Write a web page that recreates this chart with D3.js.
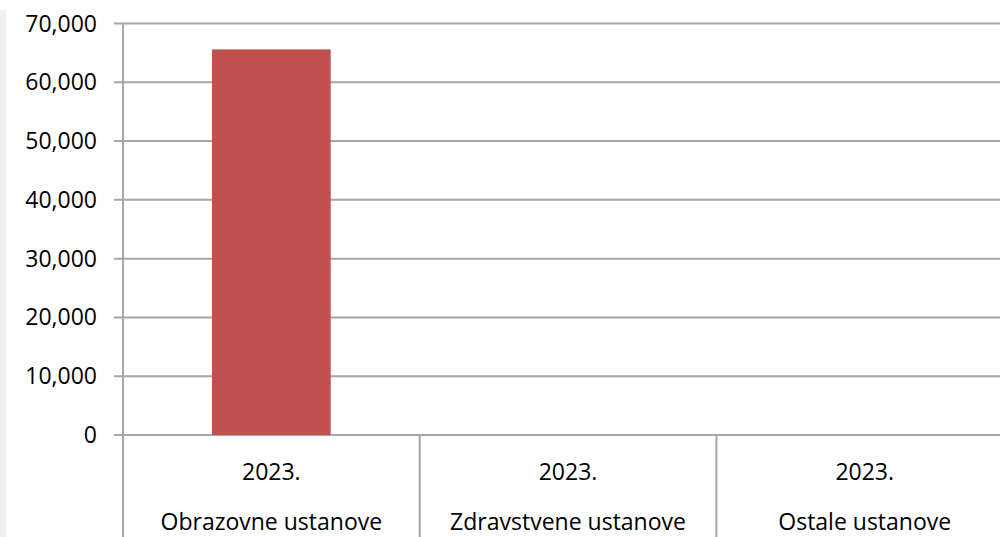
<!DOCTYPE html>
<html>
<head>
<meta charset="utf-8">
<script src="https://cdn.jsdelivr.net/npm/d3@7"></script>
<style>
  body { margin: 0; background: #fff; }
  svg { display: block; font-family: "Open Sans", sans-serif; }
  .tick-label { font-size: 23px; fill: #000; }
</style>
</head>
<body>
<svg id="chart"></svg>
<script>
// data
var years = ["2023.", "2023.", "2023."];
var categories = ["Obrazovne ustanove", "Zdravstvene ustanove", "Ostale ustanove"];
var values = [65600, 0, 0];
var yTicks = [0, 10000, 20000, 30000, 40000, 50000, 60000, 70000];

var w = 1000;
var h = 537;
var padding = {
  top: 23.5,
  left: 123,
  bottom: 102
};
var bandW = 296.7;

var svg = d3.select("#chart")
  .attr("width", w)
  .attr("height", h);

// faint strip at the left edge
svg.append("rect")
  .attr("x", 0)
  .attr("y", 10)
  .attr("width", 6)
  .attr("height", h - 10)
  .attr("fill", "#f0f1ed");

var yScale = d3.scaleLinear()
  .domain([0, 70000])
  .range([h - padding.bottom, padding.top]);

var xScale = d3.scaleBand()
  .domain(d3.range(categories.length))
  .range([padding.left, padding.left + bandW * categories.length])
  .paddingInner(0)
  .paddingOuter(0);

var fmt = d3.format(",");

// gridlines
svg.selectAll("line.grid")
  .data(yTicks)
  .enter()
  .append("line")
  .attr("class", "grid")
  .attr("x1", padding.left - 9)
  .attr("x2", w)
  .attr("y1", function(d) { return yScale(d); })
  .attr("y2", function(d) { return yScale(d); })
  .attr("stroke", "#a6a6a6")
  .attr("stroke-width", 2);

// bars
svg.selectAll("rect.bar")
  .data(values)
  .enter()
  .append("rect")
  .attr("class", "bar")
  .attr("x", function(d, i) { return xScale(i) + xScale.bandwidth() * 0.3; })
  .attr("width", xScale.bandwidth() * 0.4)
  .attr("y", function(d) { return yScale(d); })
  .attr("height", function(d) { return yScale(0) - yScale(d); })
  .attr("fill", "#c0504d");

// y axis line
svg.append("line")
  .attr("x1", padding.left)
  .attr("x2", padding.left)
  .attr("y1", padding.top)
  .attr("y2", h)
  .attr("stroke", "#a6a6a6")
  .attr("stroke-width", 2);

// category separators
svg.selectAll("line.sep")
  .data(d3.range(1, categories.length))
  .enter()
  .append("line")
  .attr("class", "sep")
  .attr("x1", function(d) { return xScale(d); })
  .attr("x2", function(d) { return xScale(d); })
  .attr("y1", yScale(0))
  .attr("y2", h)
  .attr("stroke", "#a6a6a6")
  .attr("stroke-width", 2);

// y tick labels
svg.selectAll("text.ylab")
  .data(yTicks)
  .enter()
  .append("text")
  .attr("class", "tick-label ylab")
  .attr("x", 97)
  .attr("y", function(d) { return yScale(d) + 8; })
  .attr("text-anchor", "end")
  .text(function(d) { return fmt(d); });

// x labels, two lines
svg.selectAll("text.year")
  .data(years)
  .enter()
  .append("text")
  .attr("class", "tick-label year")
  .attr("x", function(d, i) { return xScale(i) + xScale.bandwidth() / 2; })
  .attr("y", 480)
  .attr("text-anchor", "middle")
  .text(function(d) { return d; });

svg.selectAll("text.cat")
  .data(categories)
  .enter()
  .append("text")
  .attr("class", "tick-label cat")
  .attr("x", function(d, i) { return xScale(i) + xScale.bandwidth() / 2; })
  .attr("y", 530)
  .attr("text-anchor", "middle")
  .text(function(d) { return d; });
</script>
</body>
</html>
